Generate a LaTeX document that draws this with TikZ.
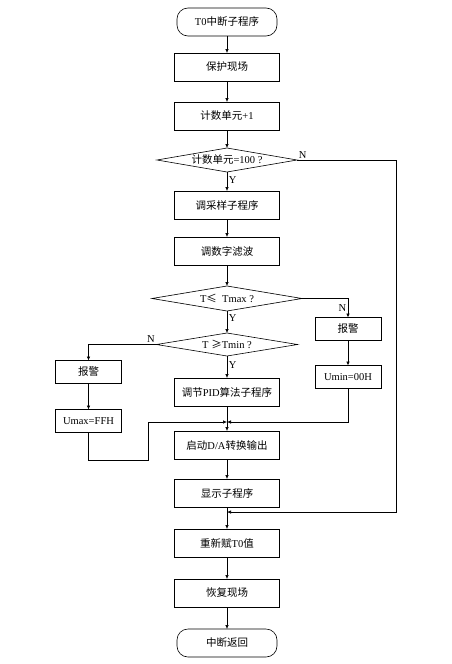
\documentclass[tikz,border=0pt]{standalone}
\usepackage{fontspec}
\setmainfont{Liberation Serif}
\newfontfamily\cjk{Noto Sans CJK SC}
\newcommand{\zh}[1]{{\cjk #1}}
\usetikzlibrary{arrows.meta,positioning,calc,shapes.geometric}
\tikzset{
  font=\fontsize{10.5}{12}\selectfont,
  box/.style={
    draw,
    align=center,
    minimum width=105pt,
    minimum height=28pt,
    inner sep=2pt,
    outer sep=0pt
  },
  side/.style={
    draw,
    align=center,
    minimum width=66pt,
    minimum height=23pt,
    inner sep=2pt,
    outer sep=0pt
  },
  term/.style={
    draw,
    rounded corners=11pt,
    minimum width=100pt,
    minimum height=28pt,
    outer sep=0pt
  },
  decide/.style={
    draw,
    diamond,
    aspect=6,
    inner sep=0pt,
    outer sep=0pt
  },
  lbl/.style={inner sep=1.5pt},
  arrow/.style={-{Latex[length=4pt,width=3.5pt]}}
}

\begin{document}
\begin{tikzpicture}[x=1pt, y=-1pt, line width=0.6pt]
\useasboundingbox (0,0) rectangle (451,664);

\node[term] (start) at (227,22) {T0\zh{中断子程序}};
\node[box, below=17pt of start] (protect) {\zh{保护现场}};
\node[box, below=21pt of protect] (count) {\zh{计数单元}+1};
\node[decide, minimum width=140pt, minimum height=24pt, below=18pt of count] (chk100) {\zh{计数单元}=100 ?};
\node[box, below=19pt of chk100] (sample) {\zh{调采样子程序}};
\node[box, below=18pt of sample] (filter) {\zh{调数字滤波}};
\node[decide, minimum width=150pt, minimum height=25pt, below=21pt of filter] (tmax) {T\zh{≤}\ \ Tmax ?};
\node[decide, minimum width=141pt, minimum height=23pt, below=22pt of tmax] (tmin) {T \zh{≥}Tmin ?};
\node[box, below=22pt of tmin] (pid) {\zh{调节}PID\zh{算法子程序}};
\node[box, below=25pt of pid] (da) {\zh{启动}D/A\zh{转换输出}};
\node[box, below=20pt of da] (disp) {\zh{显示子程序}};
\node[box, below=22pt of disp] (reload) {\zh{重新赋}T0\zh{值}};
\node[box, below=22pt of reload] (restore) {\zh{恢复现场}};
\node[term, below=22pt of restore] (finish) {\zh{中断返回}};

% side branches
\node[side, below right=19pt and 13pt of tmax.east] (alarmR) {\zh{报警}};
\node[side, below=25pt of alarmR] (umin) {Umin=00H};
\node[side, below left=16pt and 35pt of tmin.west] (alarmL) {\zh{报警}};
\node[side, below=26pt of alarmL] (umax) {Umax=FFH};

% join points
\coordinate (jn1) at ($(pid.south)!0.64!(da.north)$);
\coordinate (jn2) at ($(disp.south)!0.23!(reload.north)$);
\coordinate (rt) at ([xshift=99pt]chk100.east);
\coordinate (lp) at ([xshift=60pt,yshift=-28pt]umax.south);

\draw[arrow] (start) -- (protect);
\draw[arrow] (protect) -- (count);
\draw[arrow] (count) -- (chk100);
\draw[arrow] (chk100) -- node[lbl, right, pos=0.4] {Y} (sample);
\draw[arrow] (sample) -- (filter);
\draw[arrow] (filter) -- (tmax);
\draw[arrow] (tmax) -- node[lbl, right, pos=0.3] {Y} (tmin);
\draw[arrow] (tmin) -- node[lbl, right, pos=0.4] {Y} (pid);
\draw[arrow] (pid) -- (da);
\draw[arrow] (da) -- (disp);
\draw[arrow] (disp) -- (reload);
\draw[arrow] (reload) -- (restore);
\draw[arrow] (restore) -- (finish);

\draw[arrow] (chk100.east) node[lbl, above right] {N} -- (rt) |- (jn2);
\draw[arrow] (tmax.east) -| node[lbl, left, pos=0.75] {N} (alarmR);
\draw[arrow] (alarmR) -- (umin);
\draw[arrow] (umin) |- (jn1);
\draw[arrow] (tmin.west) node[lbl, above left] {N} -| (alarmL);
\draw[arrow] (alarmL) -- (umax);
\draw[arrow] (umax) |- (lp) |- (jn1);

\end{tikzpicture}
\end{document}
